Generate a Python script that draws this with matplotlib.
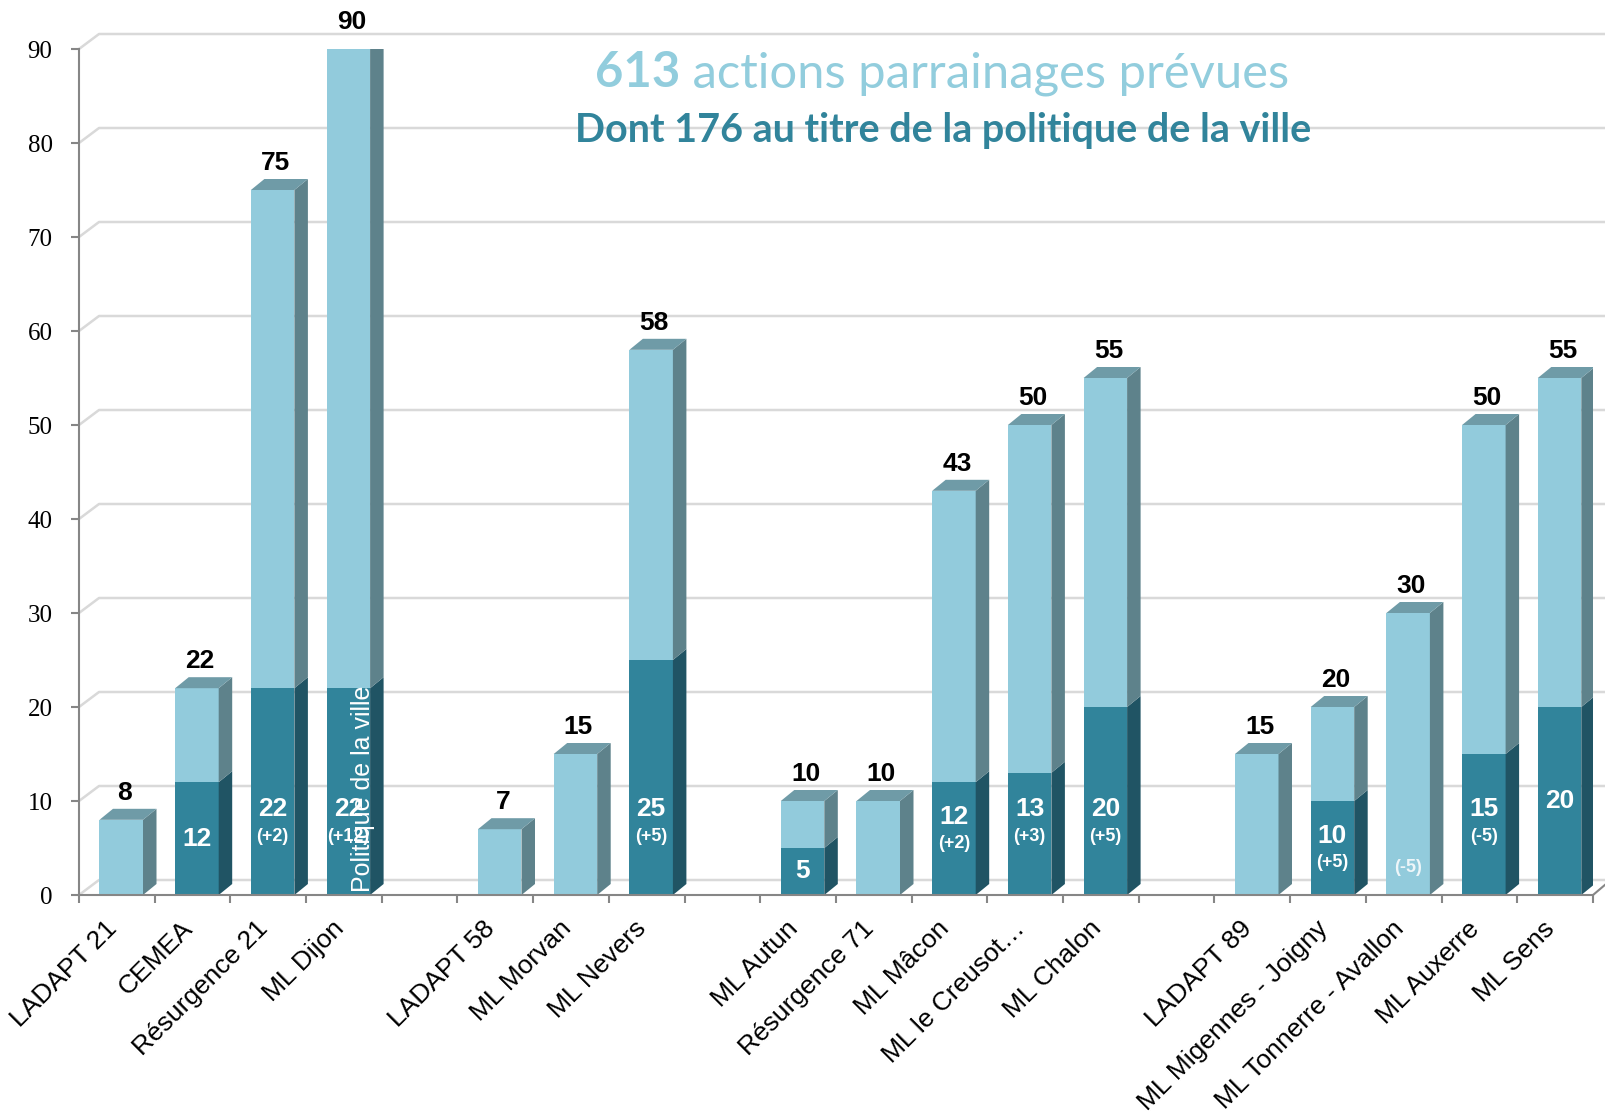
import numpy as np
import matplotlib
matplotlib.use('Agg')
import matplotlib.pyplot as plt
from matplotlib.patches import Polygon

# one slot per category, empty strings are the gaps between departments
categories = ['LADAPT 21', 'CEMEA', 'Résurgence 21', 'ML Dijon', '',
              'LADAPT 58', 'ML Morvan', 'ML Nevers', '',
              'ML Autun', 'Résurgence 71', 'ML Mâcon', 'ML le Creusot…', 'ML Chalon', '',
              'LADAPT 89', 'ML Migennes - Joigny', 'ML Tonnerre - Avallon', 'ML Auxerre', 'ML Sens']
totals = [8, 22, 75, 90, 0, 7, 15, 58, 0, 10, 10, 43, 50, 55, 0, 15, 20, 30, 50, 55]
politique = [0, 12, 22, 22, 0, 0, 0, 25, 0, 5, 0, 12, 13, 20, 0, 0, 10, 0, 15, 20]
ecarts = ['', '', '(+2)', '(+12)', '', '', '', '(+5)', '', '', '', '(+2)', '(+3)', '(+5)', '',
          '', '(+5)', '(-5)', '(-5)', '']
yticks = list(range(0, 100, 10))

title_total = '613'
title_rest = ' actions parrainages prévues'
subtitle = 'Dont 176 au titre de la politique de la ville'

light_front, light_side, light_top = '#92CBDC', '#5E828B', '#6F9BA7'
dark_front, dark_side, dark_top = '#31849B', '#205464', '#2A6E80'
grid_col = '#d9d9d9'
axis_col = '#868686'

W, H = 1606, 1117
left, right, bottom, top = 79, 1593, 895, 49
fig = plt.figure(figsize=(W / 100, H / 100), dpi=100)
ax = fig.add_axes([left / W, 1 - bottom / H, (right - left) / W, (bottom - top) / H])
n = len(categories)
ax.set_xlim(0, n)
ax.set_ylim(0, 90)

# size of one pixel in data units
px = n / (right - left)
py = 90 / (bottom - top)

# back wall grid (3d look)
wall_dx, wall_dy = 20 * px, 15 * py
x_end = (W - left) * px
for v in yticks:
    ax.plot([0, wall_dx, x_end], [v, v + wall_dy, v + wall_dy], color=grid_col, lw=1.8,
            clip_on=False, zorder=0)
ax.plot([n, n + 13 * px], [0, 11 * py], color=axis_col, lw=1.5, clip_on=False, zorder=1)

# bars
bar_off, bar_w = 20.5 * px, 43.5 * px
dx, dy = 13.5 * px, 11 * py


def block(x0, y0, y1, front, side):
    x1 = x0 + bar_w
    ax.add_patch(Polygon([(x0, y0), (x1, y0), (x1, y1), (x0, y1)], closed=True,
                         facecolor=front, lw=0, zorder=2))
    ax.add_patch(Polygon([(x1, y0), (x1 + dx, y0 + dy), (x1 + dx, y1 + dy), (x1, y1)],
                         closed=True, facecolor=side, lw=0, zorder=2))


for i, (tot, pol, ec) in enumerate(zip(totals, politique, ecarts)):
    if tot == 0:
        continue
    x0 = i + bar_off
    xc = x0 + bar_w / 2
    if pol > 0:
        block(x0, 0, pol, dark_front, dark_side)
    if tot > pol:
        block(x0, pol, tot, light_front, light_side)
    tcol = light_top if tot > pol else dark_top
    ax.add_patch(Polygon([(x0, tot), (x0 + dx, tot + dy), (x0 + bar_w + dx, tot + dy),
                          (x0 + bar_w, tot)], closed=True, facecolor=tcol, lw=0, zorder=2))

    ax.text(xc + 3 * px, tot + dy + 9 * py, str(tot), ha='center', va='baseline',
            fontsize=19, fontweight='bold', family='Liberation Sans', zorder=5)

    if pol > 0 and ec == '':
        ax.text(xc, pol / 2, str(pol), ha='center', va='center', color='white',
                fontsize=19, fontweight='bold', family='Liberation Sans', zorder=5)
    elif pol > 0:
        main_y = min(pol - 3.7, 9.1)
        ax.text(xc, main_y, str(pol), ha='center', va='center', color='white',
                fontsize=19, fontweight='bold', family='Liberation Sans', zorder=5)
        ax.text(xc, main_y - 2.85, ec, ha='center', va='center', color='white',
                fontsize=13, fontweight='bold', family='Liberation Sans', zorder=5)
    elif ec:
        ax.text(xc, 2.9, ec, ha='center', va='center', color='#eef6f9',
                fontsize=13, fontweight='bold', family='Liberation Sans', zorder=5)

# stray label left on the Dijon bar
ax.text(3 + 284 * px - 3, 3 * py, 'Politique de la ville', rotation=90, ha='center', va='bottom',
        color='white', fontsize=18, family='Liberation Sans', zorder=6)

# axes
for s in ['top', 'right']:
    ax.spines[s].set_visible(False)
for s in ['left', 'bottom']:
    ax.spines[s].set_color(axis_col)
    ax.spines[s].set_linewidth(1.5)
    ax.spines[s].set_zorder(3)
ax.set_yticks(yticks)
ax.set_yticklabels([str(v) for v in yticks], family='Liberation Serif', fontsize=18)
ax.tick_params(axis='y', length=6, width=1.5, color=axis_col, pad=13)
ax.set_xticks(range(n + 1))
ax.set_xticklabels([])
ax.tick_params(axis='x', length=6, width=1.5, color=axis_col)

for i, lab in enumerate(categories):
    if lab:
        ax.text(i + 34 * px, -30 * py, lab, rotation=45, rotation_mode='anchor',
                ha='right', va='center', fontsize=19, family='Liberation Sans', clip_on=False)

# titles, fitted to the widths measured on the picture
renderer = fig.canvas.get_renderer()


def fit_line(parts, target_w, cx, base_y, family):
    size = 30
    texts = [fig.text(0, 0, s, fontsize=size, fontweight=w, color=c, family=family)
             for s, w, c in parts]
    width = sum(t.get_window_extent(renderer).width for t in texts)
    size = size * target_w / width
    x = cx - target_w / 2
    for t in texts:
        t.set_fontsize(size)
        wpx = t.get_window_extent(renderer).width
        t.set_position((x / W, 1 - base_y / H))
        t.set_va('baseline')
        x += wpx


fit_line([(title_total, 'bold', '#92CDDD'), (title_rest, 'normal', '#92CDDD')],
         694, 942, 87, 'Lato')
fit_line([(subtitle, 'bold', '#31849B')], 736, 943, 142, 'Lato')

fig.savefig('out.png', dpi=100)
